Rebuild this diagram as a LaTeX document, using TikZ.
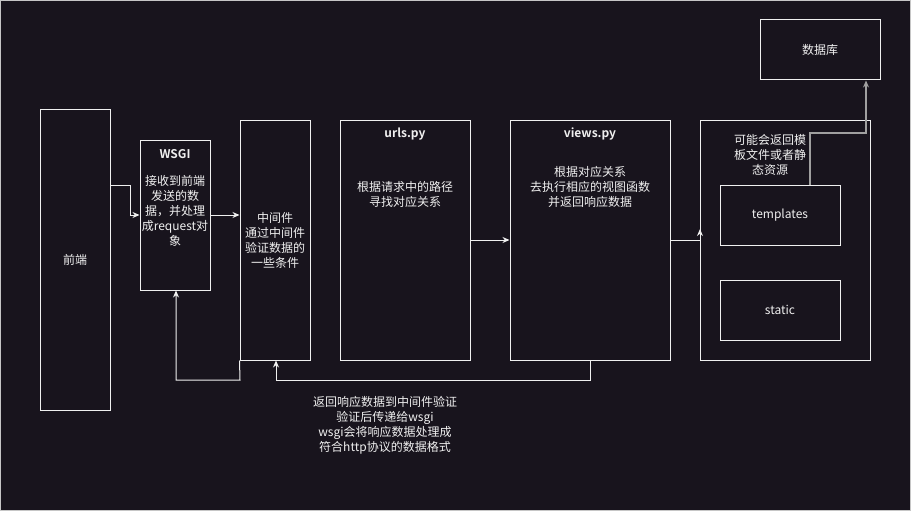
\documentclass[tikz,border=0pt]{standalone}
\usepackage{fontspec}
\setmainfont{Noto Sans CJK SC}[BoldFont={Noto Sans CJK SC Bold}]
\usetikzlibrary{arrows.meta}
\definecolor{bg}{HTML}{18141D}
\definecolor{fg}{HTML}{F0F0F0}
\definecolor{grayline}{HTML}{A0A0A0}
\tikzset{
  box/.style={draw=fg, line width=1pt, fill=bg, rectangle, inner sep=0pt},
  lbl/.style={text=fg, font=\fontsize{12}{15}\selectfont, align=center, inner sep=0pt},
  conn/.style={draw=fg, line width=1pt, -{Stealth[length=7pt,width=6pt]}},
}
\begin{document}
\begin{tikzpicture}[x=1pt,y=-1pt]
\fill[bg] (0,0) rectangle (911,511);
\draw[gray!45, line width=0.6pt] (0.5,0.5) rectangle (910.5,510.5);
\useasboundingbox (0,0) rectangle (911,511);

% boxes
\node[box, minimum width=70pt, minimum height=300pt] (fe) at (75,260) {};
\node[box, minimum width=70pt, minimum height=150pt] (wsgi) at (175,215) {};
\node[box, minimum width=70pt, minimum height=240pt] (mw) at (275,240) {};
\node[box, minimum width=130pt, minimum height=240pt] (urls) at (405,240) {};
\node[box, minimum width=160pt, minimum height=240pt] (views) at (590,240) {};
\node[box, minimum width=170pt, minimum height=240pt] (cont) at (785,240) {};
\node[box, minimum width=120pt, minimum height=60pt] (tpl) at (780,215) {};
\node[box, minimum width=120pt, minimum height=60pt] (stat) at (780,310) {};
\node[box, minimum width=120pt, minimum height=60pt] (db) at (820,50) {};

% labels
\node[lbl] (tfe) at (75,260) {前端};
\node[lbl, font=\fontsize{12}{15}\selectfont\bfseries] (twsgi) at (175,154) {WSGI};
\node[lbl, anchor=north] (twsgi2) at (175,175) {接收到前端\\发送的数\\据，并处理\\成request对\\象};
\node[lbl] (tmw) at (275,240.5) {中间件\\通过中间件\\验证数据的\\一些条件};
\node[lbl, font=\fontsize{12}{15}\selectfont\bfseries] (turls) at (405,134) {urls.py};
\node[lbl] (turls2) at (405,194.5) {根据请求中的路径\\寻找对应关系};
\node[lbl, font=\fontsize{12}{15}\selectfont\bfseries] (tviews) at (590,134) {views.py};
\node[lbl] (tviews2) at (590,187) {根据对应关系\\去执行相应的视图函数\\并返回响应数据};
\node[lbl] (tcont) at (770,154.5) {可能会返回模\\板文件或者静\\态资源};
\node[lbl] (ttpl) at (780,215) {templates};
\node[lbl] (tstat) at (780,310) {static};
\node[lbl] (tdb) at (820,50) {数据库};
\node[lbl] (tret) at (385,425.5) {返回响应数据到中间件验证\\验证后传递给wsgi\\wsgi会将响应数据处理成\\符合http协议的数据格式};

% connectors
\draw[conn] (fe.east |- 0,185) -- (130,185) -- (130,215) -- (wsgi.west);
\draw[conn] (wsgi.east) -- (wsgi.east -| mw.west);
\draw[conn] (urls.east) -- (views.west);
\coordinate (vr) at (700,240);
\draw[conn] (views.east) -- (vr) -- (700,229);
\draw[draw=grayline, line width=1.5pt, -{Stealth[length=7pt,width=6pt]}] (810,185) -- (810,133) -- (866,133) -- (db.south -| 866,0);
\draw[conn] (mw.south west) -- (240,380) -- (176,380) -- (wsgi.south -| 176,0);
\draw[conn] (views.south) -- (590,380) -- (276,380) -- (mw.south -| 276,0);
\end{tikzpicture}
\end{document}
